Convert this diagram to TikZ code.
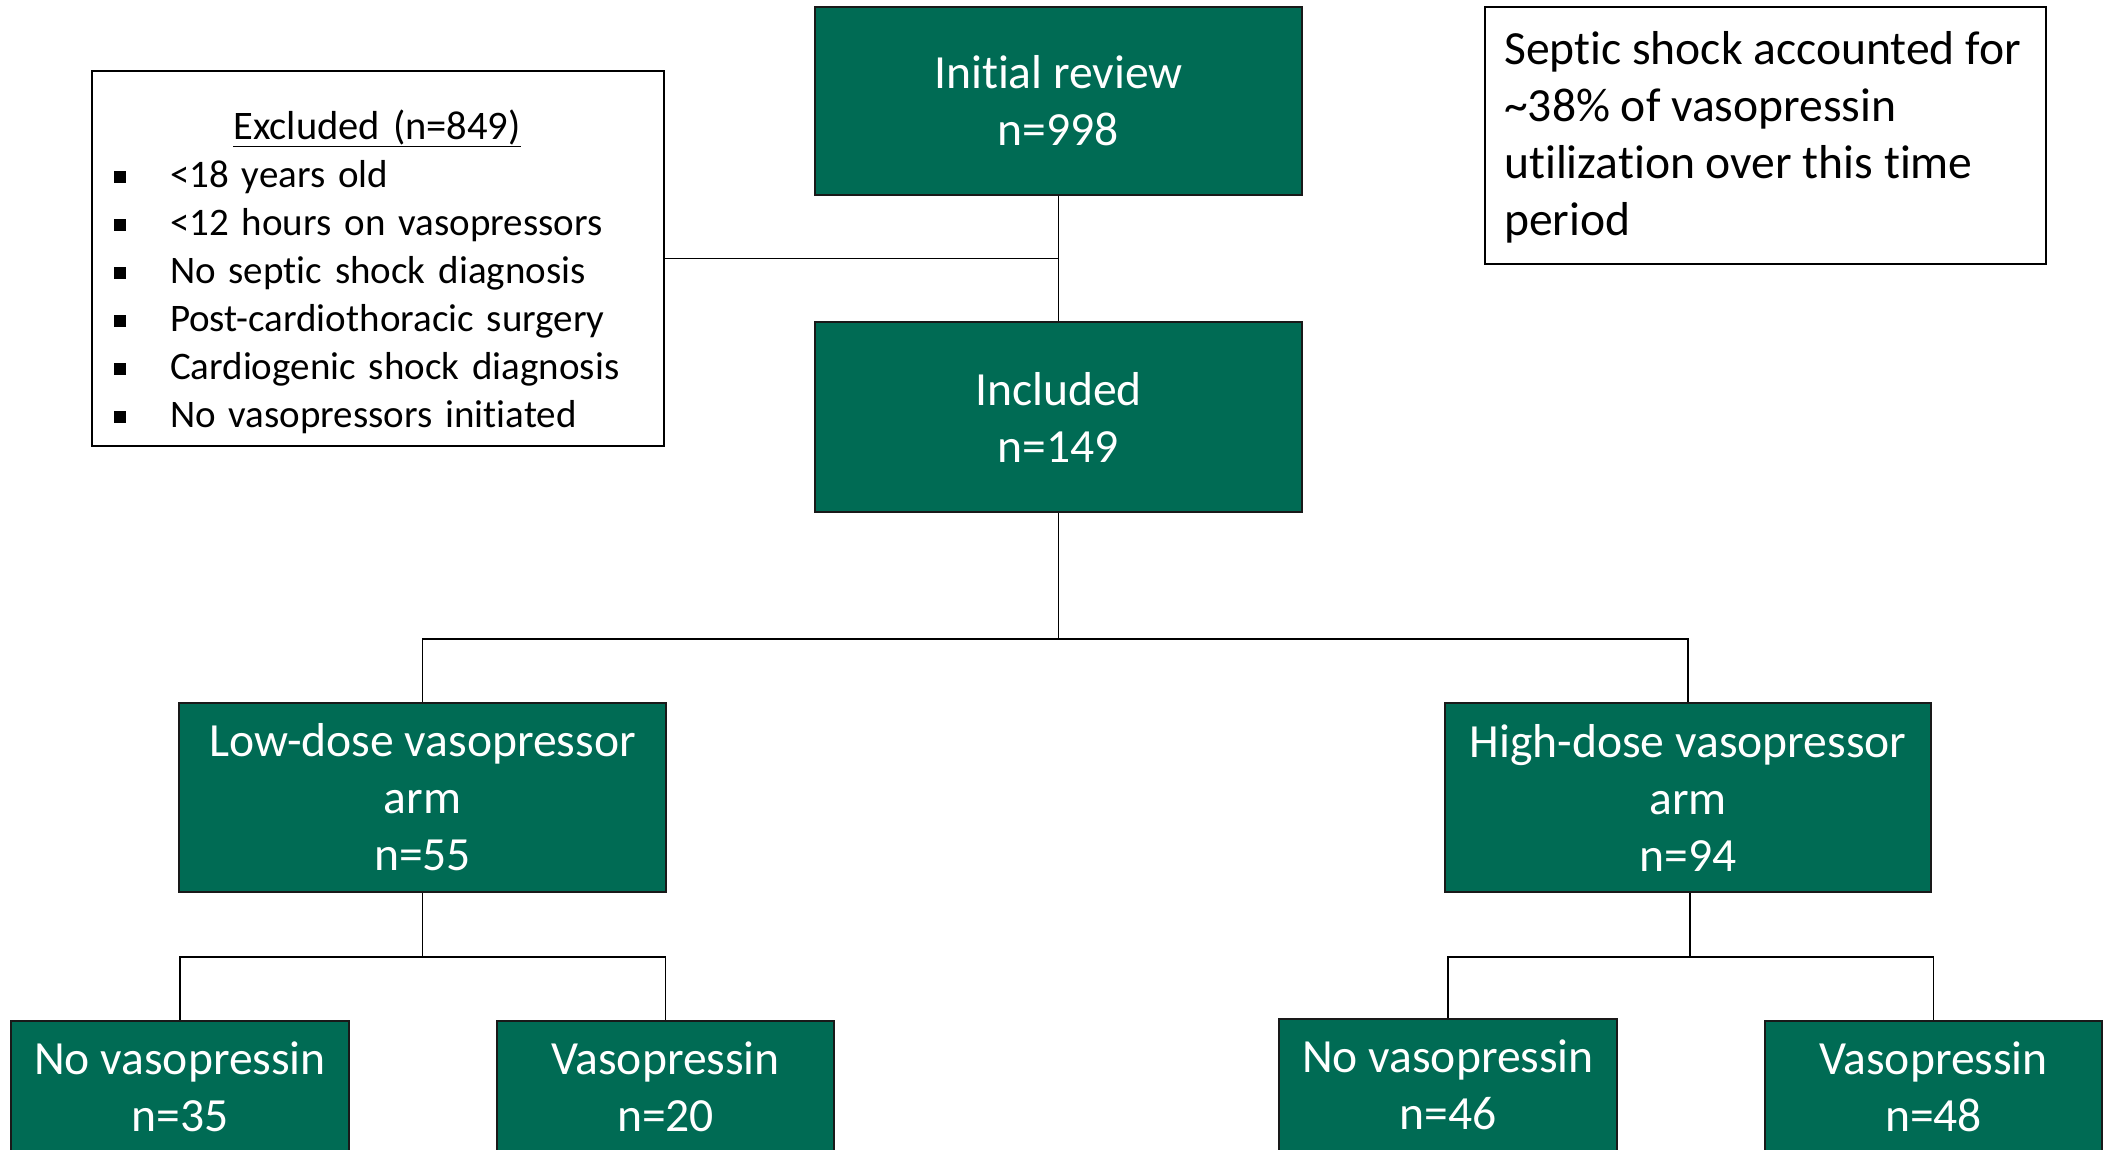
\documentclass[tikz,border=0pt]{standalone}
\usepackage{fontspec}
\setmainfont{Carlito}[Ligatures=NoCommon]
\definecolor{boxgreen}{RGB}{0,107,84}
\newcommand{\exitem}[1]{\makebox[56pt][l]{\raisebox{5pt}{\rule{12pt}{12pt}}}#1}
\begin{document}
\begin{tikzpicture}[x=1pt,y=-1pt,
  gbox/.style={draw=black!90, line width=2.5pt, fill=boxgreen, text=white,
    font=\fontsize{47.6}{57}\selectfont, align=center, inner sep=0pt},
  wbox/.style={draw=black, line width=2pt, fill=white, inner sep=0pt},
  conn/.style={draw=black, line width=1.5pt}]
\useasboundingbox (0,0) rectangle (2113,1150);
\clip (0,0) rectangle (2113,1150);

% main boxes
\node[gbox, minimum width=487, minimum height=188] (init) at (1058.5,101) {Initial review\\n=998};
\node[gbox, minimum width=487, minimum height=190] (incl) at (1058.5,417) {Included\\n=149};
\node[gbox, minimum width=487, minimum height=189] (low) at (422.5,797.5) {Low-dose vasopressor\\arm\\n=55};
\node[gbox, minimum width=486, minimum height=189] (high) at (1688,797.5) {High-dose vasopressor\\arm\\n=94};

% bottom boxes (cut off by the page edge)
\node[gbox, minimum width=338, minimum height=132] (nvl) at (180,1087) {No vasopressin\\n=35};
\node[gbox, minimum width=337, minimum height=132] (vl) at (665.5,1087) {Vasopressin\\n=20};
\node[gbox, minimum width=338, minimum height=132] (nvr) at (1448,1085) {No vasopressin\\n=46};
\node[gbox, minimum width=337, minimum height=132] (vr) at (1933.5,1087) {Vasopressin\\n=48};

% excluded box
\node[wbox, minimum width=572, minimum height=375] (excl) at (378,258.5) {};
\node[inner sep=0pt, text width=526pt, align=left, font=\fontsize{39}{48}\selectfont] (extxt) at (377,272)
 {\makebox[526pt][c]{\fontsize{40.5}{48}\selectfont\underline{Excluded (n=849)}}\\
  \exitem{<18 years old}\\
  \exitem{<12 hours on vasopressors}\\
  \exitem{No septic shock diagnosis}\\
  \exitem{Post-cardiothoracic surgery}\\
  \exitem{Cardiogenic shock diagnosis}\\
  \exitem{No vasopressors initiated}};

% note box
\node[wbox, minimum width=561, minimum height=257] (note) at (1765.5,135.5) {};
\node[inner sep=0pt, anchor=west, align=left, font=\fontsize{47.6}{57}\selectfont] (notetxt) at (1504,137)
 {Septic shock accounted for\\\textasciitilde 38\% of vasopressin\\utilization over this time\\period};

% connectors
\draw[conn] (init.south) -- (incl.north);
\draw[conn] (excl.east) -- (excl.east -| init.south);
\coordinate (s1) at (1058.5,639);
\draw[conn] (incl.south) -- (s1);
\draw[conn] (low.north) -- (low.north |- s1) -- (high.north |- s1) -- (high.north);
\coordinate (s2) at (422.5,957);
\draw[conn] (low.south) -- (s2);
\draw[conn] (nvl.north) -- (nvl.north |- s2) -- (vl.north |- s2) -- (vl.north);
\coordinate (s3) at (1690,957);
\draw[conn] (high.south -| s3) -- (s3);
\draw[conn] (nvr.north) -- (nvr.north |- s3) -- (vr.north |- s3) -- (vr.north);
\end{tikzpicture}
\end{document}
